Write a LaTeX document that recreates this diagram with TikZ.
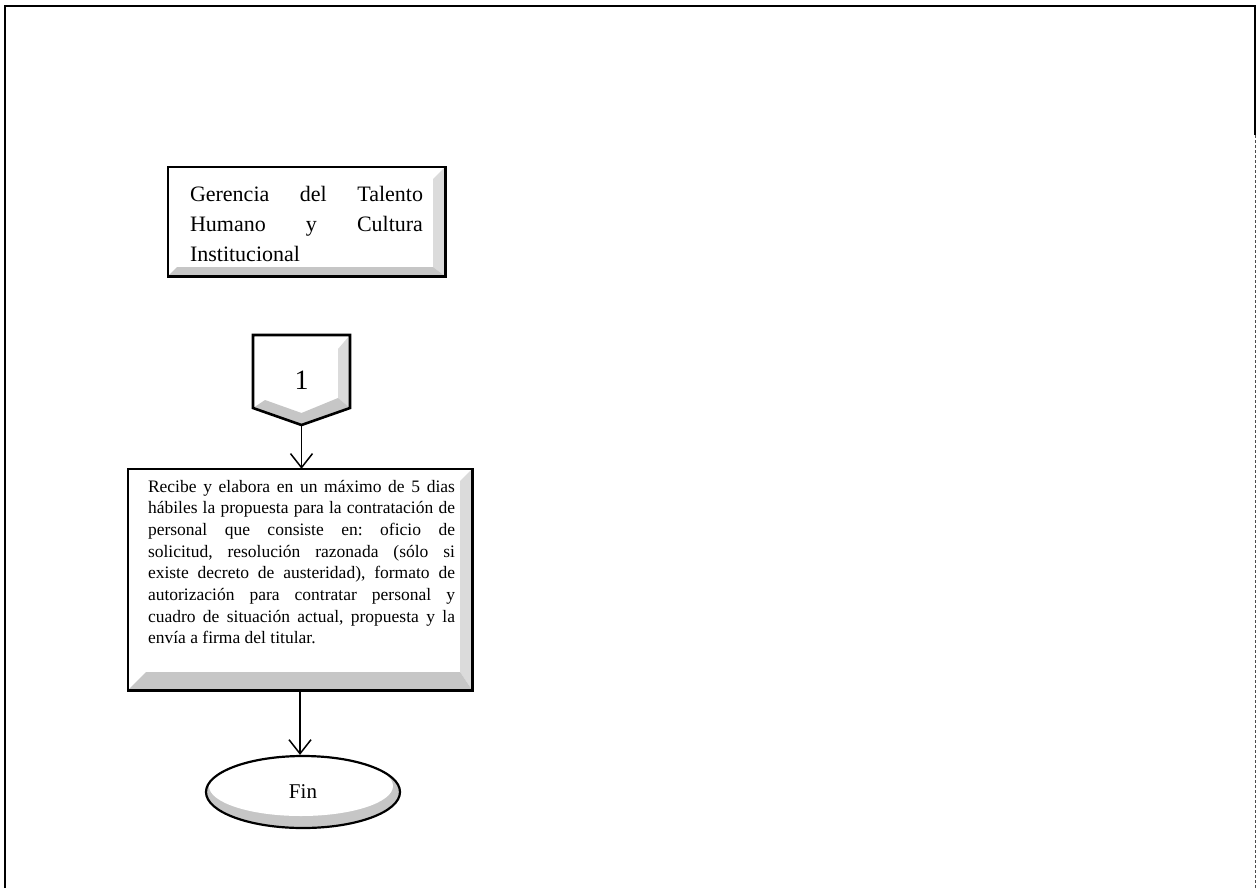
\documentclass[tikz,border=0pt]{standalone}
\usepackage{fontspec}
\setmainfont{Liberation Serif}
\usetikzlibrary{calc,arrows.meta,shapes.geometric}

\tikzset{
  frameline/.style={draw=black,line width=1.6pt},
  frameweak/.style={draw=black!70,line width=0.9pt,densely dashed},
  edge/.style={draw=black,line width=2.6pt,line join=miter},
  bevright/.style={fill=gray!28},
  bevbottom/.style={fill=gray!45},
  panel/.style={rectangle,draw=none,inner sep=0pt},
  flow/.style={draw=black,line width=1.5pt,
    -{Straight Barb[length=14pt,width=22pt,line width=1.5pt]}},
  boxtext/.style={inner sep=0pt,align=justify},
}

% bevelled panel: node name, right bevel width, bottom bevel height
\newcommand{\bevelpanel}[3]{%
  \fill[bevright] (#1.north east) -- (#1.south east)
    -- ($(#1.south east)+(-#2,-#3)$) -- ($(#1.north east)+(-#2,#2)$) -- cycle;
  \fill[bevbottom] (#1.south west) -- (#1.south east)
    -- ($(#1.south east)+(-#2,-#3)$) -- ($(#1.south west)+(#3,-#3)$) -- cycle;
  \draw[edge] (#1.south west) rectangle (#1.north east);
}

\begin{document}
\frenchspacing
\begin{tikzpicture}[x=1pt,y=-1pt]
  \useasboundingbox[fill=white] (0,0) rectangle (1257,888);

  % page frame, open at the bottom
  \coordinate (fbl) at (5,888);
  \coordinate (ftl) at (5,6);
  \coordinate (ftr) at (1255,6);
  \coordinate (frm) at (1255,135);
  \coordinate (fbr) at (1255,888);
  \draw[frameline] (fbl) -- (ftl) -- (ftr) -- (frm);
  \draw[frameweak] (frm) -- (fbr);

  % department box
  \node[panel,minimum width=277pt,minimum height=109pt] (dept) at (306.5,221.5) {};
  \bevelpanel{dept}{12}{9}
  \node[boxtext,text width=233pt,font=\fontsize{22pt}{30pt}\selectfont] (depttext) at (306.5,224)
    {Gerencia del Talento\linebreak Humano y Cultura\linebreak Institucional};

  % off-page connector
  \coordinate (pc) at (301.5,380);
  \coordinate (ptl) at (253,335);
  \coordinate (ptr) at (350,335);
  \coordinate (prb) at (350,408);
  \coordinate (ptip) at (301.5,425);
  \coordinate (plb) at (253,408);
  \fill[bevright] (ptr) -- (prb) -- (338,398) -- (338,349) -- cycle;
  \fill[bevbottom] (plb) -- (ptip) -- (prb) -- (338,398) -- (301.5,413) -- (265,400) -- cycle;
  \draw[edge] (ptl) -- (ptr) -- (prb) -- (ptip) -- (plb) -- cycle;
  \node[font=\fontsize{28pt}{30pt}\selectfont,inner sep=0pt] (one) at (pc) {1};

  % activity box
  \node[panel,minimum width=344pt,minimum height=221pt] (act) at (300,579.5) {};
  \bevelpanel{act}{12}{18}
  \node[boxtext,text width=307pt,font=\fontsize{17.5pt}{21.7pt}\selectfont] (acttext) at (301.5,562)
    {Recibe y elabora en un máximo de 5 dias\linebreak
     hábiles la propuesta para la contratación de\linebreak
     personal que consiste en: oficio de\linebreak
     solicitud, resolución razonada (sólo si\linebreak
     existe decreto de austeridad), formato de\linebreak
     autorización para contratar personal y\linebreak
     cuadro de situación actual, propuesta y la\linebreak
     envía a firma del titular.};

  % terminator
  \fill[bevbottom] (303,792) ellipse [x radius=97, y radius=36];
  \fill[white] (301,786) ellipse [x radius=92, y radius=30];
  \node[ellipse,draw=black,line width=2.2pt,minimum width=194pt,minimum height=72pt,
        inner sep=0pt,font=\fontsize{21pt}{24pt}\selectfont] (fin) at (303,792) {Fin};

  % connectors
  \draw[flow] (ptip) -- (ptip |- act.north);
  \draw[flow] (act.south) -- (act.south |- fin.north);
\end{tikzpicture}
\end{document}
